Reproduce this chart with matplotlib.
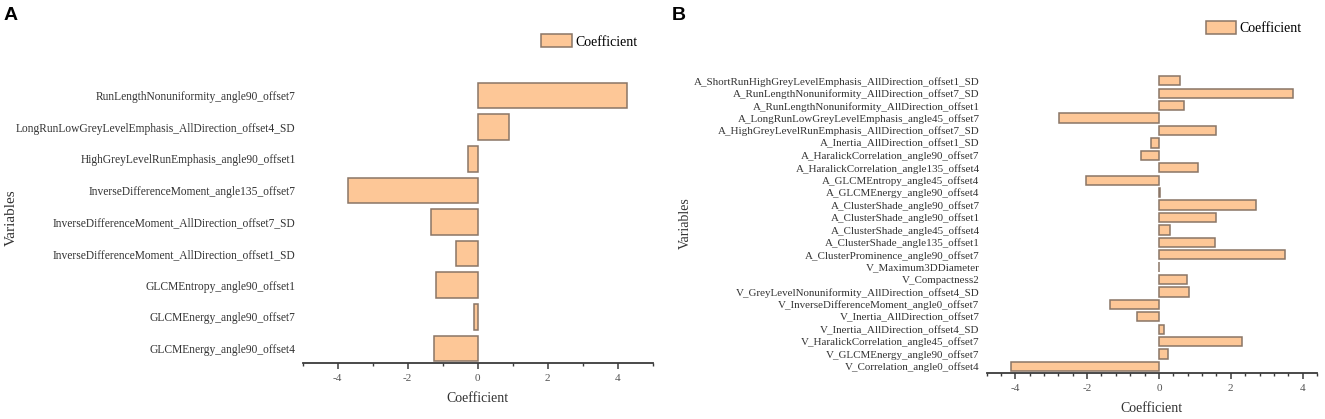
import matplotlib
matplotlib.use("Agg")
import matplotlib.pyplot as plt
from matplotlib.ticker import MultipleLocator

plt.rcParams["axes.unicode_minus"] = False

# ---------------- data (listed top to bottom as shown) ----------------
vars_a = [
    "RunLengthNonuniformity_angle90_offset7",
    "LongRunLowGreyLevelEmphasis_AllDirection_offset4_SD",
    "HighGreyLevelRunEmphasis_angle90_offset1",
    "InverseDifferenceMoment_angle135_offset7",
    "InverseDifferenceMoment_AllDirection_offset7_SD",
    "InverseDifferenceMoment_AllDirection_offset1_SD",
    "GLCMEntropy_angle90_offset1",
    "GLCMEnergy_angle90_offset7",
    "GLCMEnergy_angle90_offset4",
]
coef_a = [4.27, 0.89, -0.28, -3.70, -1.33, -0.62, -1.20, -0.10, -1.26]

vars_b = [
    "A_ShortRunHighGreyLevelEmphasis_AllDirection_offset1_SD",
    "A_RunLengthNonuniformity_AllDirection_offset7_SD",
    "A_RunLengthNonuniformity_AllDirection_offset1",
    "A_LongRunLowGreyLevelEmphasis_angle45_offset7",
    "A_HighGreyLevelRunEmphasis_AllDirection_offset7_SD",
    "A_Inertia_AllDirection_offset1_SD",
    "A_HaralickCorrelation_angle90_offset7",
    "A_HaralickCorrelation_angle135_offset4",
    "A_GLCMEntropy_angle45_offset4",
    "A_GLCMEnergy_angle90_offset4",
    "A_ClusterShade_angle90_offset7",
    "A_ClusterShade_angle90_offset1",
    "A_ClusterShade_angle45_offset4",
    "A_ClusterShade_angle135_offset1",
    "A_ClusterProminence_angle90_offset7",
    "V_Maximum3DDiameter",
    "V_Compactness2",
    "V_GreyLevelNonuniformity_AllDirection_offset4_SD",
    "V_InverseDifferenceMoment_angle0_offset7",
    "V_Inertia_AllDirection_offset7",
    "V_Inertia_AllDirection_offset4_SD",
    "V_HaralickCorrelation_angle45_offset7",
    "V_GLCMEnergy_angle90_offset7",
    "V_Correlation_angle0_offset4",
]
coef_b = [0.60, 3.72, 0.69, -2.78, 1.58, -0.22, -0.50, 1.10, -2.02, 0.02,
          2.71, 1.58, 0.31, 1.56, 3.52, 0.01, 0.79, 0.84, -1.37, -0.60,
          0.15, 2.30, 0.26, -4.11]

legend_label = "Coefficient"
xlabel = "Coefficient"
ylabel = "Variables"

# ---------------- style ----------------
W, H = 1325, 419
fig = plt.figure(figsize=(W / 100, H / 100), dpi=100)
SERIF = ["Liberation Serif", "DejaVu Serif"]
FACE = "#FDC797"
EDGE = "#8A7566"
AXC = "#3a3a3a"


def px_axes(left, right, top, bottom):
    return fig.add_axes([left / W, 1 - bottom / H, (right - left) / W, (bottom - top) / H])


def draw(ax, names, vals, xlim, ylim, minor, height, lblsize):
    n = len(names)
    ys = [n - 1 - i for i in range(n)]
    bars = ax.barh(ys, vals, height=height, color=FACE, edgecolor=EDGE,
                   linewidth=1.1, label=legend_label)
    ax.set_yticks(ys)
    ax.set_yticklabels(names, fontsize=lblsize, family=SERIF, color="#333333")
    ax.set_xlim(*xlim)
    ax.set_ylim(*ylim)
    ax.xaxis.set_major_locator(MultipleLocator(2))
    ax.xaxis.set_minor_locator(MultipleLocator(minor))
    for s in ("top", "right", "left"):
        ax.spines[s].set_visible(False)
    ax.spines["bottom"].set_color(AXC)
    ax.spines["bottom"].set_linewidth(1.3)
    ax.tick_params(axis="y", length=0, pad=5)
    ax.tick_params(axis="x", which="major", direction="out", length=4, width=1.1,
                   color=AXC, labelsize=8, labelcolor="#555555", pad=4)
    ax.tick_params(axis="x", which="minor", direction="out", length=2.5, width=1.0,
                   color=AXC)
    for t in ax.get_xticklabels():
        t.set_family(SERIF)
    ax.set_xlabel(xlabel, fontsize=10, family=SERIF, color="#333333", labelpad=6)
    ax.set_facecolor("none")
    return bars


# Panel A
axA = px_axes(302.7, 652.7, 76.7, 363.3)
bA = draw(axA, vars_a, coef_a, (-5, 5), (-0.47, 8.6), 1, 0.81, 8.3)
# Panel B
axB = px_axes(986.5, 1317.0, 73.5, 373.3)
bB = draw(axB, vars_b, coef_b, (-4.8, 4.4), (-0.55, 23.59), 0.4, 0.75, 7.9)

# y labels
fig.text(11.7 / W, 1 - 217.5 / H, ylabel, rotation=90, ha="center", va="center",
         fontsize=11, family=SERIF, color="#333333")
fig.text(685.8 / W, 1 - 223.3 / H, ylabel, rotation=90, ha="center", va="center",
         fontsize=10, family=SERIF, color="#333333")

# legends
for ax, (lx, ly) in ((axA, (541.2, 34.3)), (axB, (1205.8, 21.0))):
    ax.legend(loc="upper left", bbox_to_anchor=(lx / W, 1 - ly / H),
              bbox_transform=fig.transFigure, frameon=False, borderpad=0,
              borderaxespad=0, handlelength=2.2, handleheight=1.08,
              handletextpad=0.25, prop={"family": SERIF, "size": 10})

# panel letters
fig.text(4 / W, 1 - 7 / H, "A", ha="left", va="top", fontsize=14, weight="bold",
         family=["Liberation Sans", "DejaVu Sans"])
fig.text(672 / W, 1 - 7 / H, "B", ha="left", va="top", fontsize=14, weight="bold",
         family=["Liberation Sans", "DejaVu Sans"])

fig.savefig("out.png", dpi=100)
